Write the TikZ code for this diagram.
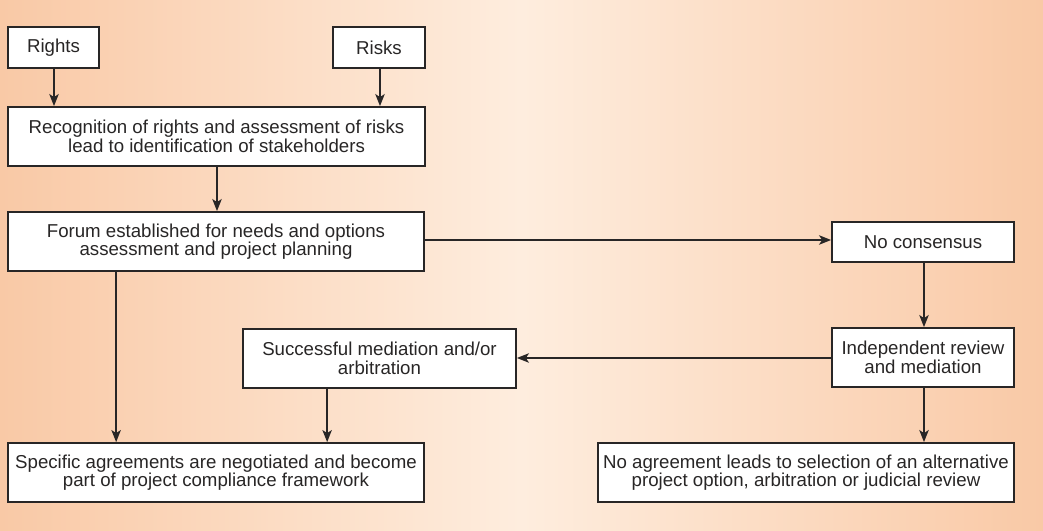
\documentclass[tikz,border=0pt]{standalone}
\usepackage{fontspec}
\setmainfont{Liberation Sans}
\usetikzlibrary{calc,arrows.meta}
\definecolor{bgside}{RGB}{249,201,166}
\definecolor{bgmid}{RGB}{254,237,222}
\definecolor{ink}{RGB}{40,38,38}
\tikzset{
    stepbox/.style={draw=ink,fill=white,line width=1.3pt,inner sep=2pt,align=center,
      text=ink,font=\fontsize{14}{13.9}\selectfont},
    arr/.style={draw=ink,line width=1.4pt,-{Stealth[length=9pt,width=7pt,inset=2.2pt]}},
  }

\begin{document}
\begin{tikzpicture}[x=0.75pt,y=-0.75pt]
	%FOND
	\useasboundingbox (0,0) rectangle (1043,531);
	\shade[left color=bgside,right color=bgside,middle color=bgmid] (0,0) rectangle (1043,531);

	%BOITES
	\node[stepbox,minimum width=91*0.75pt,minimum height=41*0.75pt] (rights) at (53.5,47.5) {Rights};
	\node[stepbox,minimum width=92*0.75pt,minimum height=41*0.75pt] (risks) at (379,47.5) {Risks};
	\node[stepbox,minimum width=417*0.75pt,minimum height=59*0.75pt] (recog) at (216.5,136.5)
		{Recognition of rights and assessment of risks\\lead to identification of stakeholders};
	\node[stepbox,minimum width=416*0.75pt,minimum height=59*0.75pt] (forum) at (216,241.5)
		{Forum established for needs and options\\assessment and project planning};
	\node[stepbox,minimum width=182*0.75pt,minimum height=40*0.75pt] (nocons) at (923,242) {No consensus};
	\node[stepbox,minimum width=182*0.75pt,minimum height=59*0.75pt] (indep) at (923,357.5)
		{Independent review\\and mediation};
	\node[stepbox,minimum width=273*0.75pt,minimum height=59*0.75pt] (success) at (379.5,358.5)
		{Successful mediation and/or\\arbitration};
	\node[stepbox,minimum width=416*0.75pt,minimum height=59*0.75pt] (specific) at (216,472.5)
		{Specific agreements are negotiated and become\\part of project compliance framework};
	\node[stepbox,minimum width=416*0.75pt,minimum height=59*0.75pt] (noagree) at (806,472.5)
		{No agreement leads to selection of an alternative\\project option, arbitration or judicial review};

	%FLECHES
	\coordinate (r0) at ($(rights.south)+(0.5,0)$);
	\draw[arr] (r0) -- (r0 |- recog.north);
	\coordinate (k0) at ($(risks.south)+(1,0)$);
	\draw[arr] (k0) -- (k0 |- recog.north);
	\coordinate (g0) at ($(recog.south)+(0.5,0)$);
	\draw[arr] (g0) -- (g0 |- forum.north);
	\coordinate (f0) at ($(forum.east)+(0,-1.5)$);
	\draw[arr] (f0) -- (nocons.west |- f0);
	\coordinate (n0) at ($(nocons.south)+(1,0)$);
	\draw[arr] (n0) -- (n0 |- indep.north);
	\coordinate (i0) at ($(indep.west)+(0,0.5)$);
	\draw[arr] (i0) -- (success.east |- i0);
	\coordinate (i1) at ($(indep.south)+(1,0)$);
	\draw[arr] (i1) -- (i1 |- noagree.north);
	\coordinate (f1) at ($(forum.south west)+(109,0)$);
	\draw[arr] (f1) -- (f1 |- specific.north);
	\coordinate (s1) at ($(success.south west)+(85,0)$);
	\draw[arr] (s1) -- (s1 |- specific.north);
\end{tikzpicture}
\end{document}
